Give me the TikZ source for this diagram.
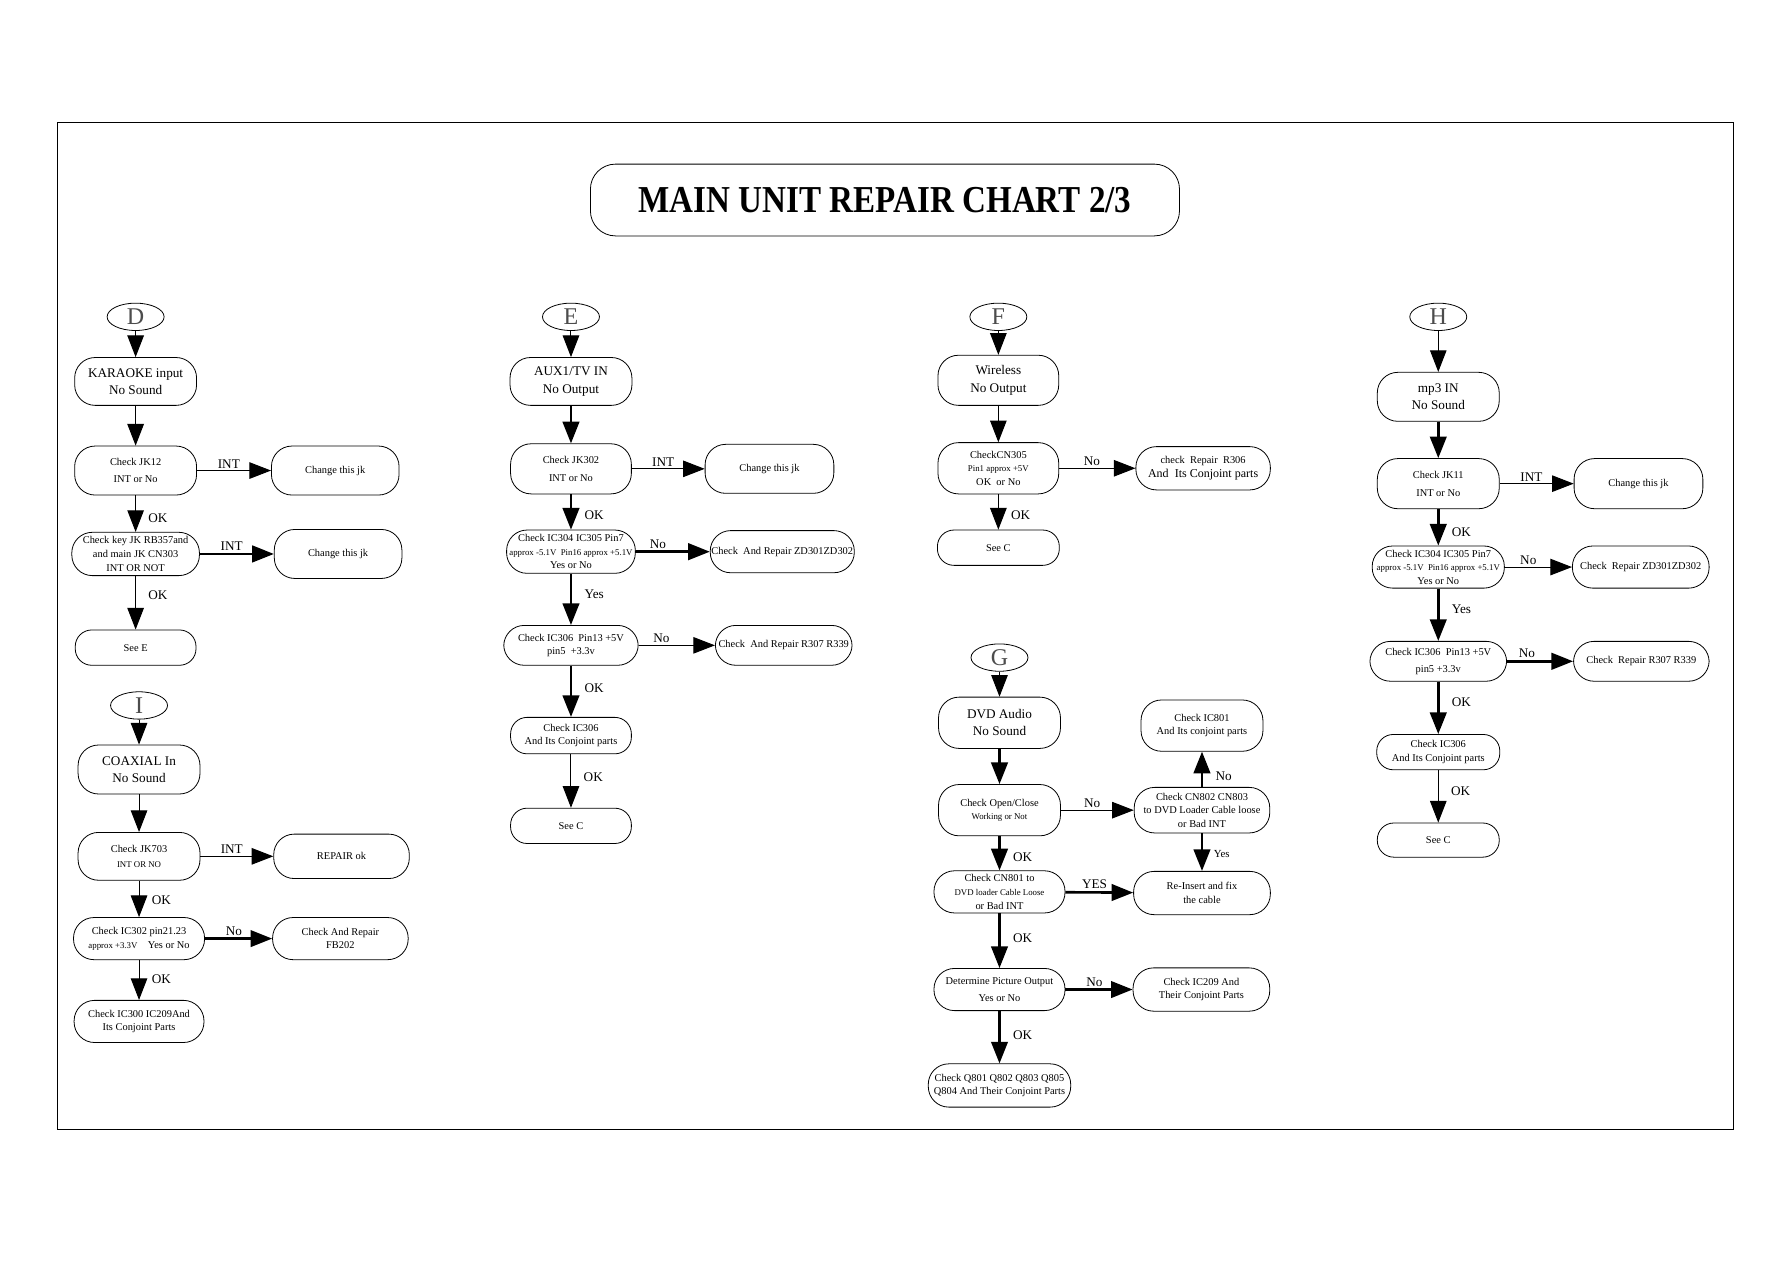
\documentclass[tikz,border=0pt]{standalone}
\usepackage{fontspec}
\setmainfont{Liberation Serif}
\usepackage{graphicx}
\usetikzlibrary{arrows.meta,positioning,shapes.geometric}

\newcommand\fsTitle{\fontsize{19}{21}\selectfont\bfseries}
\newcommand\fsTag{\fontsize{12}{12}\selectfont}
\newcommand\fsMid{\fontsize{6.6}{8.6}\selectfont}
\newcommand\fsSm{\fontsize{5.2}{6.8}\selectfont}
\newcommand\fsTn{\fontsize{4.4}{6.2}\selectfont}
\newcommand\fsLbl{\fontsize{6.6}{7}\selectfont}

\begin{document}
\begin{tikzpicture}[x=0.02cm,y=-0.02cm,
pill/.style={draw,rounded corners=3.6mm,inner sep=0.6pt,align=center,font=\fsSm,
minimum width=21.4mm,minimum height=8.6mm},
pillshort/.style={rounded corners=2.9mm},
tag/.style={draw,ellipse,inner sep=0pt,minimum width=10mm,minimum height=4.8mm,
font=\fsTag,text=black!70},
arr/.style={-{Triangle[length=3.8mm,width=2.9mm]},line width=0.5pt},
arrb/.style={arr,line width=1.3pt},
lbl/.style={font=\fsLbl,inner sep=1pt}
]
\useasboundingbox (0,0) rectangle (1568,1108);
\draw[line width=0.4pt] (50,107) rectangle (1521,991);

\node[draw,rounded corners=4.4mm,minimum width=103.4mm,minimum height=12.6mm,font=\fsTitle]
  (title) at (776.5,175.5) {\scalebox{0.87}[1]{MAIN UNIT REPAIR CHART 2/3}};

% column heads
\node[tag] (dTag) at (119,278) {D};
\node[tag] (iTag) at (122,619) {I};
\node[tag] (eTag) at (501,278) {E};
\node[tag] (fTag) at (876,278) {F};
\node[tag] (gTag) at (877,577) {G};
\node[tag] (hTag) at (1262,278) {H};

% D: karaoke
\node[pill,font=\fsMid,below=4.6mm of dTag,minimum height=8.4mm] (dIn) {KARAOKE input\\No Sound};
\node[pill,below=7mm of dIn] (dJk) {Check JK12\\[2pt]INT or No};
\node[pill,right=13mm of dJk,minimum width=22.4mm] (dJkFix) {Change this jk};
\node[pill,below=6.4mm of dJk,minimum width=22.4mm,minimum height=7.6mm] (dKey) {Check key JK RB357and\\and main JK CN303\\INT OR NOT};
\node[pill,right=13mm of dKey,minimum width=22.4mm] (dKeyFix) {Change this jk};
\node[pill,pillshort,below=9.4mm of dKey,minimum width=21.2mm,minimum height=6.2mm] (dSee) {See E};

\draw[arr] (dTag) -- (dIn);
\draw[arr] (dIn) -- (dJk);
\draw[arr] (dJk) -- node[lbl,above,pos=.43]{INT} (dJkFix);
\draw[arr] (dJk) -- node[lbl,right=1.8mm,pos=.62]{OK} (dKey);
\draw[arrb] (dKey) -- node[lbl,above,pos=.43]{INT} (dKeyFix);
\draw[arr] (dKey) -- node[lbl,right=1.8mm,pos=.36]{OK} (dSee);

% I: coaxial
\node[pill,font=\fsMid,below=4.4mm of iTag] (iIn) {COAXIAL In\\No Sound};
\node[pill,below=6.6mm of iIn,minimum height=8.4mm] (iJk) {Check JK703\\[1pt]{\fsTn INT OR NO}};
\node[pill,right=12.8mm of iJk,minimum width=23.8mm,minimum height=7.8mm] (iJkFix) {REPAIR ok};
\node[pill,below=6.4mm of iJk,minimum width=23mm,minimum height=7.4mm] (iIc) {Check IC302 pin21.23\\{\fsTn approx +3.3V}\quad Yes or No};
\node[pill,right=11.8mm of iIc,minimum width=23.8mm,minimum height=7.4mm] (iIcFix) {Check And Repair\\FB202};
\node[pill,below=7mm of iIc,minimum width=22.8mm,minimum height=7.4mm] (iEnd) {Check IC300 IC209And\\Its Conjoint Parts};

\draw[arr] (iTag) -- (iIn);
\draw[arr] (iIn) -- (iJk);
\draw[arr] (iJk) -- node[lbl,above,pos=.43]{INT} (iJkFix);
\draw[arr] (iJk) -- node[lbl,right=1.8mm,pos=.53]{OK} (iIc);
\draw[arrb] (iIc) -- node[lbl,above,pos=.43]{No} (iIcFix);
\draw[arr] (iIc) -- node[lbl,right=1.8mm,pos=.49]{OK} (iEnd);

% E: aux
\node[pill,font=\fsMid,below=4.6mm of eTag,minimum height=8.4mm] (eIn) {AUX1/TV IN\\No Output};
\node[pill,below=6.6mm of eIn,minimum width=21.2mm,minimum height=8.8mm] (eJk) {Check JK302\\[2pt]INT or No};
\node[pill,right=12.8mm of eJk,minimum width=22.6mm] (eJkFix) {Change this jk};
\node[pill,below=6.2mm of eJk,minimum width=22.6mm,minimum height=7.6mm] (eVolt) {Check IC304 IC305 Pin7\\{\fsTn approx -5.1V\ \ Pin16 approx +5.1V}\\Yes or No};
\node[pill,right=13mm of eVolt,minimum width=24.2mm,minimum height=7.4mm] (eVoltFix) {Check\ \ And Repair ZD301ZD302};
\node[pill,below=9mm of eVolt,minimum width=23.6mm,minimum height=7mm] (eIc) {Check IC306\ \ Pin13 +5V\\pin5\ \ +3.3v};
\node[pill,right=13.4mm of eIc,minimum width=24mm,minimum height=7mm] (eIcFix) {Check\ \ And Repair R307 R339};
\node[pill,pillshort,below=9mm of eIc,minimum width=21.2mm,minimum height=6.4mm] (eIcChk) {Check IC306\\And Its Conjoint parts};
\node[pill,pillshort,below=9.4mm of eIcChk,minimum width=21.2mm,minimum height=6.2mm] (eSee) {See C};

\draw[arr] (eTag) -- (eIn);
\draw[arrb] (eIn) -- (eJk);
\draw[arr] (eJk) -- node[lbl,above,pos=.43]{INT} (eJkFix);
\draw[arrb] (eJk) -- node[lbl,right=1.8mm,pos=.6]{OK} (eVolt);
\draw[arrb] (eVolt) -- node[lbl,above,pos=.3]{No} (eVoltFix);
\draw[arrb] (eVolt) -- node[lbl,right=1.8mm,pos=.4]{Yes} (eIc);
\draw[arr] (eIc) -- node[lbl,above,pos=.3]{No} (eIcFix);
\draw[arrb] (eIc) -- node[lbl,right=1.8mm,pos=.44]{OK} (eIcChk);
\draw[arr] (eIcChk) -- node[lbl,right=1.8mm,pos=.43]{OK} (eSee);

% F: wireless
\node[pill,font=\fsMid,below=4.2mm of fTag,minimum width=21.2mm,minimum height=8.8mm] (fIn) {Wireless\\No Output};
\node[pill,below=6.4mm of fIn,minimum width=21.2mm,minimum height=9mm] (fCn) {CheckCN305\\{\fsTn Pin1 approx +5V}\\OK\ \ or No};
\node[pill,right=13.4mm of fCn,minimum width=23.6mm,minimum height=7.6mm] (fCnFix) {check\ \ Repair\ \ R306\\{\fontsize{6}{7}\selectfont And\ \ Its Conjoint parts}};
\node[pill,pillshort,below=6.2mm of fCn,minimum width=21.4mm,minimum height=6.2mm] (fSee) {See C};

\draw[arr] (fTag) -- (fIn);
\draw[arr] (fIn) -- (fCn);
\draw[arr] (fCn) -- node[lbl,above,pos=.43]{No} (fCnFix);
\draw[arr] (fCn) -- node[lbl,right=1.8mm,pos=.6]{OK} (fSee);

% G: dvd audio
\node[pill,font=\fsMid,below=4.4mm of gTag,minimum height=9mm] (gIn) {DVD Audio\\No Sound};
\node[pill,below=6.2mm of gIn,minimum height=9mm] (gDoor) {Check Open/Close\\{\fsTn Working or Not}};
\node[pill,right=12.8mm of gDoor,minimum width=23.8mm,minimum height=8mm] (gLoad) {Check CN802 CN803\\to DVD Loader Cable loose\\or Bad INT};
\node[pill,above=6.2mm of gLoad,minimum height=9mm] (gIc801) {Check IC801\\And Its conjoint parts};
\node[pill,below=6.6mm of gLoad,minimum width=24mm,minimum height=7.6mm] (gCable) {Re-Insert and fix\\the cable};
\node[pill,below=6mm of gDoor,minimum width=23mm,minimum height=7.4mm] (gCn) {Check CN801 to\\{\fsTn DVD loader Cable Loose}\\or Bad INT};
\node[pill,below=9.6mm of gCn,minimum width=23mm,minimum height=7.4mm] (gPic) {Determine Picture Output\\[1.5pt]Yes or No};
\node[pill,right=11.8mm of gPic,minimum width=24mm,minimum height=7.6mm] (gPicFix) {Check IC209 And\\Their Conjoint Parts};
\node[pill,below=9.2mm of gPic,minimum width=25mm,minimum height=7.6mm] (gQ) {Check Q801 Q802 Q803 Q805\\Q804 And Their Conjoint Parts};

\draw[arr] (gTag) -- (gIn);
\draw[arrb] (gIn) -- (gDoor);
\draw[arr] (gDoor) -- node[lbl,above,pos=.43]{No} (gLoad);
\draw[arrb] (gLoad) -- node[lbl,right=1.8mm,pos=.3]{No} (gIc801);
\draw[arrb] (gLoad) -- node[lbl,right=1.5mm,pos=.55,font=\fontsize{5.4}{6}\selectfont]{Yes} (gCable);
\draw[arrb] (gDoor) -- node[lbl,right=1.8mm,pos=.6]{OK} (gCn);
\draw[arrb] (gCn) -- node[lbl,above,pos=.43]{YES} (gCable);
\draw[arrb] (gCn) -- node[lbl,right=1.8mm,pos=.46]{OK} (gPic);
\draw[arrb] (gPic) -- node[lbl,above,pos=.43]{No} (gPicFix);
\draw[arrb] (gPic) -- node[lbl,right=1.8mm,pos=.46]{OK} (gQ);

% H: mp3
\node[pill,font=\fsMid,below=7.2mm of hTag] (hIn) {mp3 IN\\No Sound};
\node[pill,below=6.4mm of hIn,minimum height=8.8mm] (hJk) {Check JK11\\[2pt]INT or No};
\node[pill,right=13mm of hJk,minimum width=22.6mm,minimum height=8.8mm] (hJkFix) {Change this jk};
\node[pill,below=6.4mm of hJk,minimum width=23.2mm,minimum height=7.4mm] (hVolt) {Check IC304 IC305 Pin7\\{\fsTn approx -5.1V\ \ Pin16 approx +5.1V}\\Yes or No};
\node[pill,right=11.8mm of hVolt,minimum width=24mm,minimum height=7.4mm] (hVoltFix) {Check\ \ Repair ZD301ZD302};
\node[pill,below=9.2mm of hVolt,minimum width=24mm,minimum height=7mm] (hIc) {Check IC306\ \ Pin13 +5V\\[1.5pt]pin5 +3.3v};
\node[pill,right=11.6mm of hIc,minimum width=23.8mm,minimum height=7mm] (hIcFix) {Check\ \ Repair R307 R339};
\node[pill,pillshort,below=9.2mm of hIc,minimum width=21.6mm,minimum height=6.2mm] (hIcChk) {Check IC306\\And Its Conjoint parts};
\node[pill,pillshort,below=9.2mm of hIcChk,minimum height=6mm] (hSee) {See C};

\draw[arr] (hTag) -- (hIn);
\draw[arrb] (hIn) -- (hJk);
\draw[arr] (hJk) -- node[lbl,above,pos=.43]{INT} (hJkFix);
\draw[arrb] (hJk) -- node[lbl,right=1.8mm,pos=.62]{OK} (hVolt);
\draw[arr] (hVolt) -- node[lbl,above,pos=.35]{No} (hVoltFix);
\draw[arrb] (hVolt) -- node[lbl,right=1.8mm,pos=.4]{Yes} (hIc);
\draw[arrb] (hIc) -- node[lbl,above,pos=.3]{No} (hIcFix);
\draw[arrb] (hIc) -- node[lbl,right=1.8mm,pos=.4]{OK} (hIcChk);
\draw[arr] (hIcChk) -- node[lbl,right=1.8mm,pos=.4]{OK} (hSee);
\end{tikzpicture}
\end{document}
